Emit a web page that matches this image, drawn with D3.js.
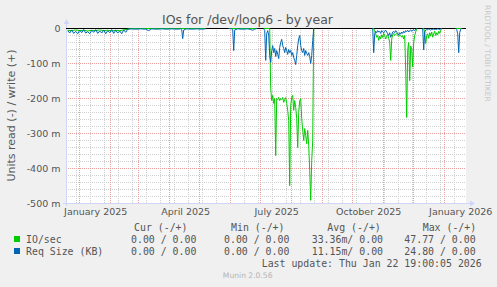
<!DOCTYPE html>
<html><head><meta charset="utf-8">
<script src="https://cdn.jsdelivr.net/npm/d3@7"></script>
<style>html,body{margin:0;padding:0;background:#F0F0F0;} svg{display:block;}</style>
</head><body>
<svg id="c" width="497" height="287"></svg>
<script>
// ---------------- data ----------------
const title = "IOs for /dev/loop6 - by year";
const yLabel = "Units read (-) / write (+)";
const yTicks = [0, -100, -200, -300, -400, -500];           // milli-units
const xLabelMonths = ["2025-01-01","2025-04-01","2025-07-01","2025-10-01","2026-01-01"];
const xLabels = ["January 2025","April 2025","July 2025","October 2025","January 2026"];
const periodEnd = "2026-01-22T19:00:05Z";
const periodDays = 400;

// day numbers (0 = 1 Jan 2025) and read values in milli-units (null = no data)
const ioDays = [-12,-8,-4,0,4,8,12,16,20,24,28,32,36,40,44,48,52,60,70,80,90,100,110,120,126,127,
  149,160,170,177,178,
  184,190,191,192,193,194,195,196,197,198,199,200,201,202,203,204,205,206,207,208,209,210,211,212,213,214,215,216,217,218,219,220,221,222,223,224,225,226,227,228,229,230,231,232,233,234,235,
  293,294,295,296,297,298,299,300,301,302,303,304,305,306,307,308,309,310,311,312,313,314,315,316,317,318,319,320,321,322,323,324,325,326,327,328,329,330,331,332,333,334,335,336,337,338,
  343,344,345,346,347,348,349,350,351,352,353,354,355,356,357,358,359,360,361,362,363,
  376,382];
const ioRead = [-5,-6,-4,-6,-5,-7,-5,-6,-4,-6,-5,-7,-5,-6,-4,-2,0,0,0,0,0,0,0,0,0,null,
  0,0,0,0,null,
  0,0,-171,-206,-191,-214,-200,-363,-200,-203,-197,-206,-200,-203,-197,-211,-203,-197,-214,-234,-263,-449,-220,-197,-191,-234,-206,-226,-257,-340,-240,-206,-200,-257,-291,-320,-286,-306,-329,-291,-334,-406,-491,-377,-320,0,null,
  0,0,-8,-15,-25,-20,-34,-22,-30,-18,-26,-14,-20,-30,-22,-17,-28,-40,-91,-30,-18,-14,-20,-17,-14,-20,-23,-17,-20,-25,-20,-30,-20,-120,-254,-60,-40,-149,-50,-60,-110,-40,-20,-10,0,null,
  0,0,-10,-43,-20,-15,-28,-12,-22,-10,-25,-15,-8,-20,-12,-18,-8,-14,-5,0,null,
  0,0];

const reqDays = [-12,-10,-8,-6,-4,-2,0,2,4,6,8,10,12,14,16,18,20,22,24,26,28,30,32,34,36,38,40,42,44,46,48,
  51,56,61,66,69,72,77,82,87,92,97,101,102,103,104,107,112,117,122,126,127,
  149,152,153,154,155,158,163,168,171,173,175,177,178,
  184,185,186,187,188,189,190,191,192,193,194,195,196,197,198,199,200,201,202,203,204,205,206,207,208,209,210,211,212,213,214,215,216,217,218,219,220,221,222,223,224,225,226,227,228,229,230,231,232,233,234,235,
  293,294,295,296,297,298,299,300,301,302,303,304,305,306,307,308,309,310,311,312,313,314,315,316,317,318,319,320,321,322,323,324,325,326,327,328,329,330,331,332,333,334,335,336,337,338,
  343,344,345,346,347,348,349,350,351,352,353,354,355,356,357,358,359,360,361,362,363,
  376,377,378,379,380,381,382];
const reqRead = [-6,-13,-4,-14,-8,-15,-5,-12,-3,-13,-9,-15,-5,-11,-3,-14,-7,-13,-4,-15,-6,-12,-3,-14,-5,-13,-7,-15,-4,-11,-2,
  -1,-2,-1,-2,-6,-1,-2,-1,-2,-1,-2,-1,-3,-29,-4,-1,-2,-1,-2,-1,null,
  0,-1,-3,-63,-4,-1,-2,-1,-3,-5,-2,0,null,
  0,-6,-91,-14,-6,-20,-77,-97,-63,-49,-69,-57,-80,-63,-74,-86,-54,-40,-31,-49,-57,-69,-54,-63,-74,-60,-69,-63,-77,-69,-83,-91,-103,-77,-49,-29,-20,-49,-63,-69,-57,-77,-63,-71,-77,-69,-80,-100,-77,-34,0,null,
  0,-69,-15,-8,-12,-6,-10,-8,-14,-6,-10,-12,-8,-5,-10,-15,-20,-12,-25,-18,-10,-8,-12,-6,-10,-14,-18,-12,-16,-10,-14,-8,-12,-6,-9,-5,-10,-6,-4,-8,-5,-3,-6,-2,0,null,
  0,-61,-10,-4,-2,-4,-1,-3,-5,-2,-3,-1,-4,-2,-3,-1,-2,-3,-1,0,null,
  0,-3,-15,-69,-12,-2,0];

const seriesNames = ["IO/sec","Req Size (KB)"];
const seriesColors = ["#00CC00","#0066B3"];
const legendHeaders = ["Cur (-/+)","Min (-/+)","Avg (-/+)","Max (-/+)"];
const legendCur = ["0.00 / 0.00","0.00 / 0.00"];
const legendMin = ["0.00 / 0.00","0.00 / 0.00"];
const legendAvg = ["33.36m/ 0.00","11.15m/ 0.00"];
const legendMax = ["47.77 / 0.00","24.80 / 0.00"];
const lastUpdate = "Last update: Thu Jan 22 19:00:05 2026";
const credit = "RRDTOOL / TOBI OETIKER";
const version = "Munin 2.0.56";

// ---------------- drawing ----------------
const svg = d3.select("#c");
const L = 66, R = 466, T = 28, B = 203;
const DAY = 864e5;
const jan1 = Date.UTC(2025,0,1);
const end = new Date(periodEnd);
const start = new Date(+end - periodDays*DAY);
const x = d3.scaleUtc().domain([start, end]).range([L+0.5, R+0.5]);
const y = d3.scaleLinear().domain([-500, 0]).range([B+0.5, T+0.5]);
const snap = v => Math.floor(v) + 0.5;
const SANS = "DejaVu Sans, sans-serif", MONO = "DejaVu Sans Mono, monospace";
const FONT = "#555555";

svg.append("rect").attr("width",497).attr("height",287).attr("fill","#F0F0F0");
svg.append("rect").attr("x",L).attr("y",T).attr("width",R-L).attr("height",B-T).attr("fill","#FFFFFF");

const grid = svg.append("g").attr("fill","none").attr("stroke-dasharray","1,1");
// minor horizontal
d3.range(-480, 0, 20).filter(v => v % 100 !== 0).forEach(v => {
  grid.append("line").attr("x1",L).attr("x2",R).attr("y1",snap(y(v))).attr("y2",snap(y(v))).attr("stroke","#D0D0D0");
});
// minor vertical: every 14 days
const minorStart = Date.UTC(2024,11,29);
for (let t = minorStart; t < +end; t += 14*DAY) {
  if (t < +start) continue;
  const xx = snap(x(new Date(t)));
  grid.append("line").attr("x1",xx).attr("x2",xx).attr("y1",T).attr("y2",B).attr("stroke","#D0D0D0");
}
// major vertical: months
d3.utcMonth.range(start, end).forEach(m => {
  const xx = snap(x(m));
  grid.append("line").attr("x1",xx).attr("x2",xx).attr("y1",T).attr("y2",B).attr("stroke","#EBA0A0");
});
// major horizontal
yTicks.filter(v => v !== 0).forEach(v => {
  grid.append("line").attr("x1",L).attr("x2",R).attr("y1",snap(y(v))).attr("y2",snap(y(v))).attr("stroke","#EBA0A0");
});

// axes lines + arrows
const axc = "#CFD6F8";
svg.append("line").attr("x1",L+0.5).attr("x2",L+0.5).attr("y1",B+3).attr("y2",T-4).attr("stroke",axc);
svg.append("line").attr("x1",L-3).attr("x2",R+4).attr("y1",B+0.5).attr("y2",B+0.5).attr("stroke",axc);
svg.append("path").attr("d",`M${L-2.5},${T-4} L${L+3.5},${T-4} L${L+0.5},${T-9} Z`).attr("fill",axc);
svg.append("path").attr("d",`M${R+4},${B-2.5} L${R+4},${B+3.5} L${R+9},${B+0.5} Z`).attr("fill",axc);

// zero line
svg.append("line").attr("x1",L).attr("x2",R).attr("y1",y(0)).attr("y2",y(0)).attr("stroke","#000");

// y axis labels
const yAxis = svg.append("g").attr("transform",`translate(${L},0)`)
  .call(d3.axisLeft(y).tickValues(yTicks).tickSize(0).tickPadding(5.5)
    .tickFormat(d => d === 0 ? "0" : d + " m"));
yAxis.select(".domain").remove();
yAxis.selectAll("text").attr("font-family",SANS).attr("font-size","9.5px").attr("fill",FONT).attr("dy","0.36em");

// x axis labels (centred half a month after the month start)
const xAxis = svg.append("g").attr("transform",`translate(0,${B})`)
  .call(d3.axisBottom(x).tickValues(xLabelMonths.map(s => new Date(+new Date(s+"T00:00:00Z") + 15.5*DAY)))
    .tickSize(0).tickPadding(5.75).tickFormat((d,i) => xLabels[i]));
xAxis.select(".domain").remove();
xAxis.selectAll("text").attr("font-family",SANS).attr("font-size","9.5px").attr("fill",FONT);

// series lines
function series(days, vals) { return days.map((d,i) => ({t: new Date(jan1 + d*DAY), v: vals[i]})); }
const line = d3.line().defined(d => d.v !== null).x(d => x(d.t)).y(d => y(d.v));
[[ioDays, ioRead],[reqDays, reqRead]].forEach(([dd, vv], k) => {
  svg.append("path").datum(series(dd, vv)).attr("d", line)
    .attr("fill","none").attr("stroke",seriesColors[k]).attr("stroke-width",1).attr("stroke-linejoin","round");
});

// title
svg.append("text").attr("x",247.5).attr("y",24).attr("text-anchor","middle")
  .attr("font-family",SANS).attr("font-size","12.5px").attr("fill",FONT).text(title);
// y label
svg.append("text").attr("transform","translate(15,115.5) rotate(-90)").attr("text-anchor","middle")
  .attr("font-family",SANS).attr("font-size","11px").attr("fill",FONT).text(yLabel);
// right credit
svg.append("text").attr("transform","translate(485,5) rotate(90)").attr("text-anchor","start")
  .attr("font-family",SANS).attr("font-size","7.5px").attr("fill","#C8C8C8").text(credit);

// legend
const lg = svg.append("g").attr("font-family",MONO).attr("font-size","9.9px").attr("fill",FONT).attr("xml:space","preserve");
const hx = [134, 231, 327.3, 422.7];
legendHeaders.forEach((h,i) => lg.append("text").attr("x",hx[i]).attr("y",231).text(h));
const vx = [131, 224, 311.7, 404.3];
const rowsY = [242.5, 254.5];
seriesNames.forEach((n,k) => {
  const yy = rowsY[k];
  svg.append("rect").attr("x",14).attr("y",yy-6.5).attr("width",6).attr("height",6).attr("fill",seriesColors[k]);
  lg.append("text").attr("x",26).attr("y",yy).text(n);
  [legendCur[k], legendMin[k], legendAvg[k], legendMax[k]].forEach((s,i) =>
    lg.append("text").attr("x",vx[i]).attr("y",yy).text(s));
});
lg.append("text").attr("x",261.7).attr("y",267).text(lastUpdate);
svg.append("text").attr("x",247.7).attr("y",278).attr("text-anchor","middle")
  .attr("font-family",SANS).attr("font-size","7.6px").attr("fill","#B4B4B4").text(version);
</script>
</body></html>
